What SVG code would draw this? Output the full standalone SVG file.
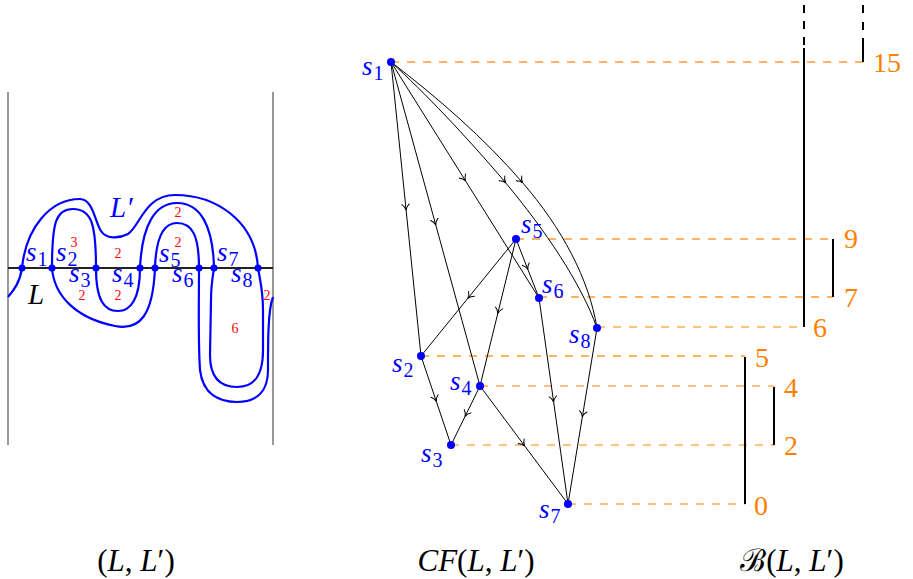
<svg xmlns="http://www.w3.org/2000/svg" width="913" height="579" viewBox="0 0 913 579" font-family="'Liberation Serif', 'Times New Roman', serif">
<defs>
<style>
text{font-family:'Liberation Serif','Times New Roman',serif}
.lbl{font-style:italic;font-size:27px;fill:#0000FF}
.sub{font-style:normal;font-size:20px}
.num{font-size:28px;fill:#FF8000}
.red{font-size:14px;fill:#FF0000;text-anchor:middle}
.cap{font-size:31px;fill:#000;text-anchor:middle}
.it{font-style:italic}
.edge{fill:none;stroke:#000;stroke-width:1;marker-mid:url(#arr)}
.dl{fill:none;stroke:#FFB366;stroke-width:1.8;stroke-dasharray:8 8}
.dd{fill:none;stroke:#FF8000;stroke-width:1.1;stroke-dasharray:8 8}
.bar{fill:none;stroke:#000;stroke-width:2}
.dot{fill:#0000FF}
</style>
<marker id="arr" viewBox="-7 -6 10 12" refX="0" refY="0" markerWidth="10" markerHeight="12" orient="auto" markerUnits="userSpaceOnUse">
<path d="M-5,-4 C-3,-1.5 -1,-0.4 1,0 C-1,0.4 -3,1.5 -5,4" fill="none" stroke="#000" stroke-width="1"/>
</marker>
</defs>

<!-- Left panel (L, L') -->
<g id="left-panel">
<line x1="8" y1="92" x2="8" y2="445" stroke="#555" stroke-width="1.2"/>
<line x1="273" y1="92" x2="273" y2="445" stroke="#555" stroke-width="1.2"/>
<line x1="8" y1="268" x2="273" y2="268" stroke="#222" stroke-width="2"/>
<path id="curve-Lprime" fill="none" stroke="#0000FF" stroke-width="2.2" d="M8,297 C14,290 20,282 22,268 C26,228 50,199 80,199 C93,199 95,222 101,231 C106,239 118,239 128,234 C140,226 145,195 175,195 C215,195 255,220 258,268 C260,280 263,290 263,310 L263,350 C263,375 255,387 237,387 C219,387 210,377 210,355 L211,300 C211,285 213,275 214,268 C213,225 200,203 177,203 C155,203 142,225 140,268 C140,300 130,311 118,311 C104,311 96,300 96,268 C96,225 92,209 73,209 C56,209 52,222 52,268 C54,295 75,318 115,326 C140,331 153,315 155,268 C156,235 165,223 177,223 C192,223 199,235 199,268 C199,300 198,340 200,370 C203,395 220,402 237,402 C258,402 268,390 268,370 C268,340 268,310 273,297"/>
<text class="lbl" x="28" y="304" style="fill:#000;font-size:29px">L</text>
<text class="lbl" x="110" y="217" style="font-size:29px">L′</text>
<g id="l-s1"><circle class="dot" cx="22" cy="268" r="3.6"/><text class="lbl" x="26" y="261">s<tspan class="sub" dx="1" dy="5">1</tspan></text></g>
<g id="l-s2"><circle class="dot" cx="52" cy="268" r="3.6"/><text class="lbl" x="56" y="261">s<tspan class="sub" dx="1" dy="5">2</tspan></text></g>
<g id="l-s3"><circle class="dot" cx="96" cy="268" r="3.6"/><text class="lbl" x="69" y="282">s<tspan class="sub" dx="1" dy="5">3</tspan></text></g>
<g id="l-s4"><circle class="dot" cx="140" cy="268" r="3.6"/><text class="lbl" x="112" y="282">s<tspan class="sub" dx="1" dy="5">4</tspan></text></g>
<g id="l-s5"><circle class="dot" cx="155" cy="268" r="3.6"/><text class="lbl" x="159" y="262">s<tspan class="sub" dx="1" dy="5">5</tspan></text></g>
<g id="l-s6"><circle class="dot" cx="199" cy="268" r="3.6"/><text class="lbl" x="172" y="282">s<tspan class="sub" dx="1" dy="5">6</tspan></text></g>
<g id="l-s7"><circle class="dot" cx="214" cy="268" r="3.6"/><text class="lbl" x="217" y="261">s<tspan class="sub" dx="1" dy="5">7</tspan></text></g>
<g id="l-s8"><circle class="dot" cx="258" cy="268" r="3.6"/><text class="lbl" x="231" y="282">s<tspan class="sub" dx="1" dy="5">8</tspan></text></g>
<text class="red" x="74" y="247">3</text>
<text class="red" x="118" y="258">2</text>
<text class="red" x="82" y="300">2</text>
<text class="red" x="118" y="300">2</text>
<text class="red" x="178" y="217">2</text>
<text class="red" x="178" y="247">2</text>
<text class="red" x="267" y="300">2</text>
<text class="red" x="235" y="333">6</text>
</g>

<!-- dashed level lines -->
<g id="levels">
<line class="dl" x1="391" y1="62" x2="863" y2="62"/>
<line class="dl" x1="516" y1="239" x2="833" y2="239"/>
<line class="dl" x1="539" y1="297" x2="833" y2="297"/>
<line class="dd" x1="597" y1="327" x2="804" y2="327"/>
<line class="dl" x1="421" y1="356" x2="745" y2="356"/>
<line class="dd" x1="480" y1="386" x2="774" y2="386"/>
<line class="dd" x1="451" y1="445" x2="774" y2="445"/>
<line class="dd" x1="568" y1="504" x2="745" y2="504"/>
</g>

<!-- connectors -->
<g id="edges">
<path class="edge" d="M391,62 L406,209 L421,356"/>
<path class="edge" d="M391,62 L435.5,224 L480,386"/>
<path class="edge" d="M391,62 L465,180 L539,298"/>
<path class="edge" d="M391,62 C424,92 466,136 505,182 C545,230 581,283 597,328"/>
<path class="edge" d="M391,62 C438,98 484,138 522,182 C562,228 589,279 597,328"/>
<path class="edge" d="M516,239 L468.5,297.5 L421,356"/>
<path class="edge" d="M516,239 L498,312.5 L480,386"/>
<path class="edge" d="M516,239 L527.5,268.5 L539,298"/>
<path class="edge" d="M421,356 L436,400.5 L451,445"/>
<path class="edge" d="M480,386 L465.5,415.5 L451,445"/>
<path class="edge" d="M480,386 L524,445 L568,504"/>
<path class="edge" d="M539,298 L553.5,401 L568,504"/>
<path class="edge" d="M597,328 L582.5,416 L568,504"/>
</g>

<!-- nodes of CF(L,L') -->
<g id="s1"><circle class="dot" cx="391" cy="62" r="4"/><text class="lbl" x="362" y="75">s<tspan class="sub" dx="1" dy="5">1</tspan></text></g>
<g id="s2"><circle class="dot" cx="421" cy="356" r="4"/><text class="lbl" x="392" y="372">s<tspan class="sub" dx="1" dy="5">2</tspan></text></g>
<g id="s3"><circle class="dot" cx="451" cy="445" r="4"/><text class="lbl" x="421" y="462">s<tspan class="sub" dx="1" dy="5">3</tspan></text></g>
<g id="s4"><circle class="dot" cx="480" cy="386" r="4"/><text class="lbl" x="450" y="390">s<tspan class="sub" dx="1" dy="5">4</tspan></text></g>
<g id="s5"><circle class="dot" cx="516" cy="239" r="4"/><text class="lbl" x="521" y="233">s<tspan class="sub" dx="1" dy="5">5</tspan></text></g>
<g id="s6"><circle class="dot" cx="539" cy="298" r="4"/><text class="lbl" x="542" y="293">s<tspan class="sub" dx="1" dy="5">6</tspan></text></g>
<g id="s7"><circle class="dot" cx="568" cy="504" r="4"/><text class="lbl" x="539" y="518">s<tspan class="sub" dx="1" dy="5">7</tspan></text></g>
<g id="s8"><circle class="dot" cx="597" cy="328" r="4"/><text class="lbl" x="569" y="343">s<tspan class="sub" dx="1" dy="5">8</tspan></text></g>

<!-- barcode -->
<g id="barcode">
<path class="bar" d="M804,48 L804,327"/>
<path class="bar" d="M804,5 L804,13 M804,21 L804,29 M804,37 L804,45"/>
<path class="bar" d="M863,38 L863,62"/>
<path class="bar" d="M863,5 L863,13 M863,22 L863,30"/>
<path class="bar" d="M833,239 L833,297"/>
<path class="bar" d="M745,357 L745,504"/>
<path class="bar" d="M774,387 L774,445"/>
<text class="num" x="873" y="72">15</text>
<text class="num" x="844" y="248">9</text>
<text class="num" x="844" y="307">7</text>
<text class="num" x="813" y="337">6</text>
<text class="num" x="755" y="367">5</text>
<text class="num" x="784" y="397">4</text>
<text class="num" x="784" y="455">2</text>
<text class="num" x="754" y="515">0</text>
</g>

<!-- captions -->
<text class="cap" x="136" y="571">(<tspan class="it">L</tspan>, <tspan class="it">L</tspan>′)</text>
<text class="cap" x="476" y="571"><tspan class="it">CF</tspan>(<tspan class="it">L</tspan>, <tspan class="it">L</tspan>′)</text>
<text class="cap" x="792" y="571">ℬ(<tspan class="it">L</tspan>, <tspan class="it">L</tspan>′)</text>
</svg>
